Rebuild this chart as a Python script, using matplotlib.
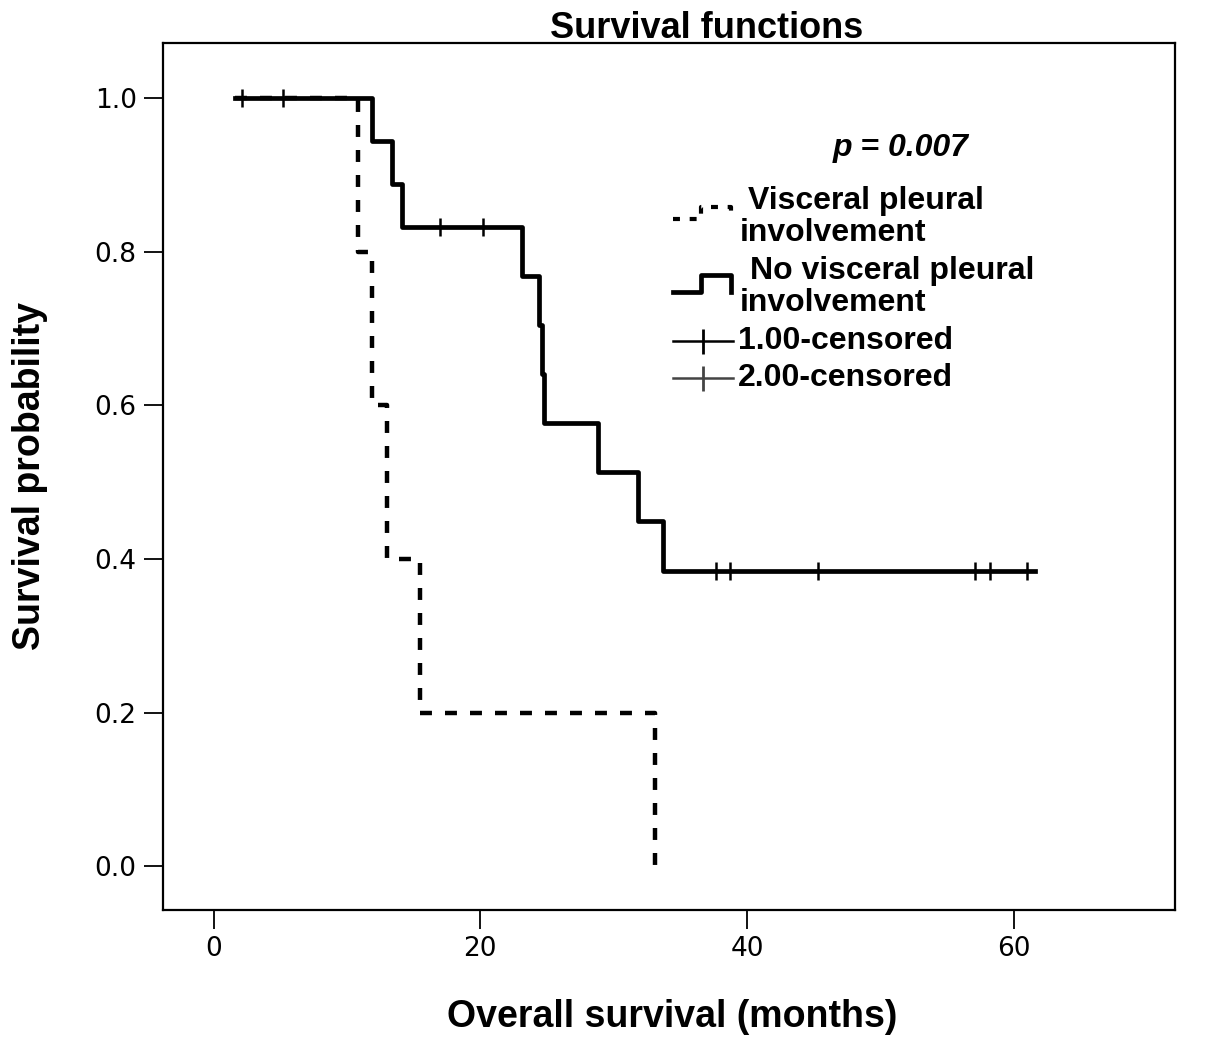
import numpy as np
import matplotlib
matplotlib.use('Agg')
from matplotlib import pyplot as plt

# Kaplan-Meier steps (months, survival after the step)
vpi_t = [1.6, 10.8, 11.9, 13.0, 15.5, 33.1]
vpi_s = [1.0, 0.8, 0.6, 0.4, 0.2, 0.0]

novpi_t = [1.6, 11.9, 13.4, 14.1, 23.1, 24.4, 24.6, 24.8, 28.8, 31.8, 33.7, 61.6]
novpi_s = [1.0, 0.944, 0.889, 0.833, 0.769, 0.705, 0.641, 0.577, 0.513, 0.449, 0.385, 0.385]

# censored cases
cens_t = [2.1, 5.2, 17.0, 20.2, 37.7, 38.7, 45.3, 57.1, 58.2, 61.0]
cens_s = [1.0, 1.0, 0.833, 0.833, 0.385, 0.385, 0.385, 0.385, 0.385, 0.385]

xticks = [0, 20, 40, 60]
yticks = [0.0, 0.2, 0.4, 0.6, 0.8, 1.0]

plt.rcParams['font.family'] = ['Liberation Sans', 'DejaVu Sans']
plt.rcParams['lines.scale_dashes'] = False

fig = plt.figure(figsize=(12.05, 10.49), dpi=100)
ax = fig.add_axes([0.1353, 0.1325, 0.8398, 0.8265])

ax.step(vpi_t, vpi_s, where='post', color='black', lw=3.2,
        dashes=(8.6, 9.4), solid_capstyle='butt', dash_capstyle='butt')
ax.step(novpi_t, novpi_s, where='post', color='black', lw=3.4)
ax.plot(cens_t, cens_s, ls='none', marker='|', ms=13, mew=1.8, color='black')

ax.set_xlim(-3.8, 72.1)
ax.set_ylim(-0.057, 1.072)
ax.set_xticks(xticks)
ax.set_xticklabels([str(v) for v in xticks], family='DejaVu Sans')
ax.set_yticks(yticks)
ax.set_yticklabels(['%.1f' % v for v in yticks], family='DejaVu Sans')
ax.tick_params(direction='out', length=14, width=1.3, labelsize=19, pad=5)
for s in ax.spines.values():
    s.set_linewidth(1.6)

fig.text(707 / 1205, 1 - 29 / 1049, 'Survival functions', ha='center', va='center',
         fontsize=26, fontweight='bold')
fig.text(672 / 1205, 1 - 1017 / 1049, 'Overall survival (months)', ha='center',
         va='center', fontsize=27, fontweight='bold')
fig.text(30 / 1205, 1 - 476 / 1049, 'Survival probability', ha='center',
         va='center', rotation=90, fontsize=27, fontweight='bold')

# legend drawn by hand to copy the SPSS style
tr = ax.transAxes
def px(x, y):
    return ((x - 163) / 1012.0, (910 - y) / 867.0)

ax.text(*px(901, 148), 'p = 0.007', transform=tr, ha='center', va='center',
        fontsize=23, fontweight='bold', style='italic')

def step_icon(y_low, y_high, **kw):
    xs, ys = zip(*[px(673, y_low), px(701, y_low), px(701, y_high),
                   px(731, y_high), px(731, y_low)])
    ax.plot(xs, ys, transform=tr, color='black', clip_on=False, **kw)

step_icon(219, 207, lw=3.0, dashes=(5, 7))
step_icon(292, 275, lw=3.4)

lw_kw = dict(transform=tr, va='center', fontsize=23, fontweight='bold')
ax.text(*px(748, 201), 'Visceral pleural', **lw_kw)
ax.text(*px(740, 233), 'involvement', **lw_kw)
ax.text(*px(750, 271), 'No visceral pleural', **lw_kw)
ax.text(*px(740, 303), 'involvement', **lw_kw)

for yy, col, lab in [(341, 'black', '1.00-censored'), (378, '#444444', '2.00-censored')]:
    xs, ys = zip(*[px(673, yy), px(733, yy)])
    ax.plot(xs, ys, transform=tr, color=col, lw=1.8, clip_on=False)
    ax.plot(*px(703, yy), transform=tr, marker='|', ms=18, mew=2, color=col, clip_on=False)
    ax.text(*px(738, yy), lab, **lw_kw)

plt.savefig('out.png', dpi=100)
